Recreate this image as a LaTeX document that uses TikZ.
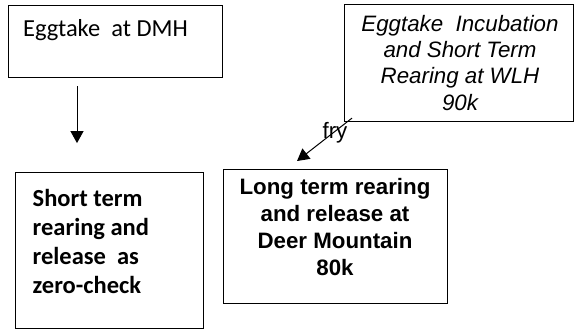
\documentclass[tikz,border=0pt]{standalone}
\usepackage{fontspec}
\setmainfont{Carlito}
\newfontfamily\arialf{Liberation Sans}
\usetikzlibrary{arrows.meta,calc}
\tikzset{
  box/.style={draw=black, line width=1.1pt, rectangle, inner sep=0pt, anchor=north west},
  txt/.style={inner sep=0pt, anchor=base},
  flow/.style={draw=black, line width=1pt, -{Triangle[width=13pt,length=12pt]}},
}
\begin{document}
\begin{tikzpicture}[x=1pt,y=-1pt]
\useasboundingbox (0,0) rectangle (575,329);
% boxes
\node[box, minimum width=214pt, minimum height=72pt] (dmh) at (8,5) {};
\node[box, minimum width=229pt, minimum height=117pt] (wlh) at (344,4) {};
\node[box, minimum width=188pt, minimum height=156pt] (zero) at (15,172) {};
\node[box, minimum width=224pt, minimum height=134pt] (deer) at (223,169) {};
% texts (anchor base = baseline of last line)
\node[txt, anchor=base west, font=\fontsize{24.5}{29}\selectfont] (tdmh) at (23,37) {Eggtake\ \ at DMH};
\node[txt, align=center, font=\arialf\itshape\fontsize{22.3}{26.3}\selectfont] (twlh) at (460,110)
  {Eggtake\ \ Incubation\\and Short Term\\Rearing at WLH\\90k};
\node[txt, anchor=base west, align=left, font=\bfseries\fontsize{24.5}{29}\selectfont] (tzero) at (32.5,293)
  {Short term\\rearing and\\release\ \ as\\zero-check};
\node[txt, align=center, font=\arialf\bfseries\fontsize{22.3}{26.7}\selectfont] (tdeer) at (335,275)
  {Long term rearing\\and release at\\Deer Mountain\\80k};
% connectors
\coordinate (a1s) at ($(dmh.south west)+(69,8)$);
\coordinate (a1e) at ($(dmh.south west)+(69,65)$);
\draw[flow] (a1s) -- (a1e);
\coordinate (a2s) at ($(wlh.south west)+(8,-4)$);
\coordinate (a2e) at ($(deer.north west)+(74,-8)$);
\draw[flow] (a2s) -- (a2e);
\node[txt, anchor=base, font=\arialf\fontsize{22.3}{26.7}\selectfont] (fry) at (335,138) {fry};
\end{tikzpicture}
\end{document}
